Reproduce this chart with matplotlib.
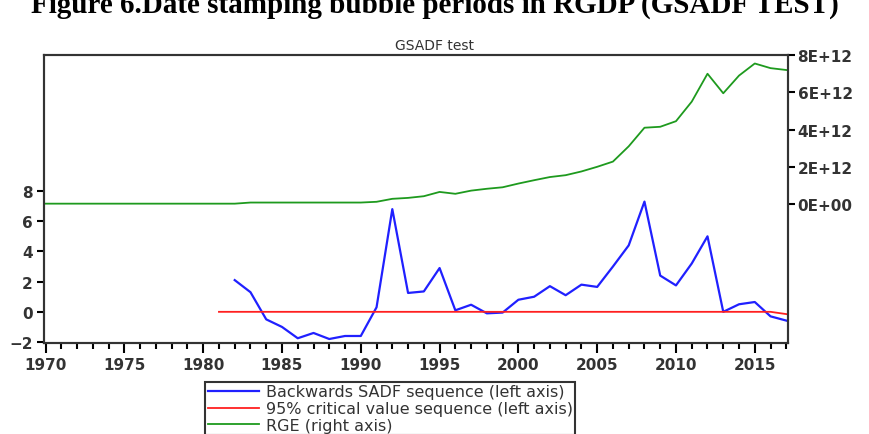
import matplotlib.pyplot as plt
from matplotlib.ticker import FixedLocator, MultipleLocator

sadfYears = list(range(1982, 2018))
sadfValues = [2.1, 1.3, -0.5, -1.0, -1.75, -1.4, -1.8, -1.6, -1.6, 0.3,
              6.8, 1.25, 1.35, 2.9, 0.1, 0.47, -0.1, -0.05, 0.8, 1.0,
              1.7, 1.1, 1.8, 1.65, 3.0, 4.4, 7.3, 2.4, 1.75, 3.2,
              5.0, 0.0, 0.5, 0.65, -0.3, -0.58]

cvYears = list(range(1981, 2018))
cvValues = [0.0] * 35 + [0.0, -0.15]

rgeYears = list(range(1970, 2018))
rgeValues = [0.02] * 13 + [0.08] * 8 + [
    0.12, 0.28, 0.33, 0.42, 0.65, 0.55, 0.72, 0.82, 0.9, 1.1,
    1.28, 1.45, 1.55, 1.75, 2.0, 2.28, 3.1, 4.1, 4.15, 4.45,
    5.5, 7.0, 5.95, 6.9, 7.55, 7.3, 7.2]
rgeValues = [v * 1e12 for v in rgeValues]

leftTicks = [-2, 0, 2, 4, 6, 8]
rightTicks = [0, 2e12, 4e12, 6e12, 8e12]
rightTickLabels = ["0E+00", "2E+12", "4E+12", "6E+12", "8E+12"]

fig = plt.figure(figsize=(8.7, 4.35), dpi=100)
ax = fig.add_axes([0.0506, 0.209, 0.855, 0.662])
ax2 = ax.twinx()

l1, = ax.plot(sadfYears, sadfValues, color="#2020ff", lw=1.6,
              label="Backwards SADF sequence (left axis)")
l2, = ax.plot(cvYears, cvValues, color="#ff2020", lw=1.3,
              label="95% critical value sequence (left axis)")
l3, = ax2.plot(rgeYears, rgeValues, color="#1e9a1e", lw=1.3,
               label="RGE (right axis)")

ax.set_xlim(1969.9, 2017.1)
ax.set_ylim(-2.07, 17.0)
ax2.set_ylim(-7.47e12, 8.0e12)

ax.xaxis.set_major_locator(MultipleLocator(5))
ax.xaxis.set_minor_locator(MultipleLocator(1))
ax.yaxis.set_major_locator(FixedLocator(leftTicks))
ax2.yaxis.set_major_locator(FixedLocator(rightTicks))
ax2.set_yticklabels(rightTickLabels)

ax.tick_params(axis="x", which="major", length=7, width=1.5, direction="out", pad=3)
ax.tick_params(axis="x", which="minor", length=4, width=1.5, direction="out")
ax.tick_params(axis="y", length=5, width=1.5, direction="out", pad=3)
ax2.tick_params(axis="y", length=5, width=1.5, direction="out", pad=2)

for lab in ax.get_xticklabels() + ax.get_yticklabels() + ax2.get_yticklabels():
    lab.set_fontfamily("DejaVu Sans")
    lab.set_fontweight("bold")
    lab.set_fontsize(11)
    lab.set_color("#333333")

for a in (ax, ax2):
    for sp in a.spines.values():
        sp.set_linewidth(1.5)
        sp.set_color("#333333")

fig.text(0.5, 0.987, "Figure 6.Date stamping bubble periods in RGDP (GSADF TEST)",
         ha="center", va="center", fontsize=21, fontweight="bold",
         family="Liberation Serif")
fig.text(0.5, 0.895, "GSADF test", ha="center", va="center", fontsize=10,
         family="DejaVu Sans", color="#333333")

leg = fig.legend(handles=[l1, l2, l3], loc="upper left",
                 bbox_to_anchor=(0.236, 0.12), borderaxespad=0,
                 fancybox=False, edgecolor="#333333", framealpha=1,
                 borderpad=0.15, labelspacing=0.12, handlelength=3.2,
                 handletextpad=0.45,
                 prop={"family": "DejaVu Sans", "size": 11.5})
leg.get_frame().set_linewidth(1.5)
for t in leg.get_texts():
    t.set_color("#333333")

fig.savefig("out.png", dpi=100)
